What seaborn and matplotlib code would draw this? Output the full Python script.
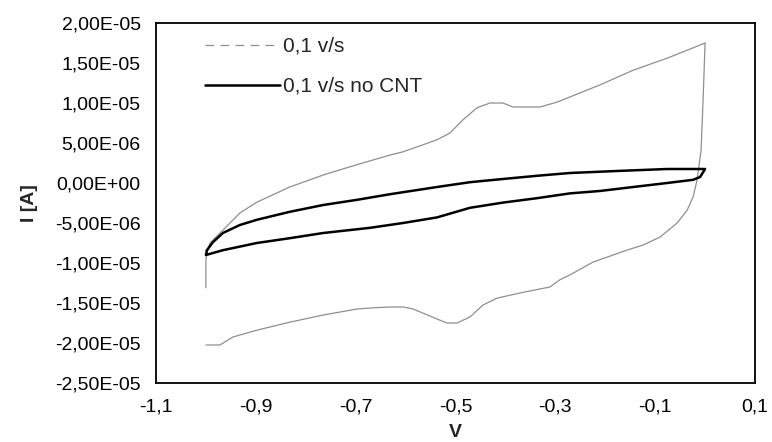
import numpy as np
import pandas as pd
import seaborn as sns
import matplotlib.pyplot as plt
from matplotlib.lines import Line2D
from matplotlib.ticker import FuncFormatter

# 0,1 v/s (with CNT) - values in microampere
cnt_rev_v = [0.000, -0.004, -0.008, -0.016, -0.024, -0.036, -0.056, -0.090, -0.124, -0.157,
             -0.225, -0.271, -0.291, -0.311, -0.371, -0.417, -0.445, -0.471, -0.497, -0.517,
             -0.537, -0.585, -0.605, -0.631, -0.665, -0.697, -0.765, -0.832, -0.898, -0.946,
             -0.972, -1.000]
cnt_rev_i = [17.5, 10.4, 4.1, 0.4, -1.75, -3.4, -5.0, -6.75, -7.75, -8.4,
             -9.9, -11.5, -12.1, -13.0, -13.75, -14.4, -15.25, -16.75, -17.5, -17.5,
             -17.0, -15.75, -15.5, -15.5, -15.6, -15.75, -16.5, -17.4, -18.4, -19.25,
             -20.25, -20.25]
cnt_fwd_v = [-1.000, -1.000, -0.998, -0.992, -0.966, -0.932, -0.898, -0.832, -0.765, -0.697,
             -0.631, -0.605, -0.537, -0.511, -0.485, -0.457, -0.431, -0.405, -0.385, -0.331,
             -0.297, -0.271, -0.211, -0.144, -0.076, -0.024, 0.000]
cnt_fwd_i = [-13.1, -9.6, -8.75, -7.5, -5.9, -3.75, -2.4, -0.5, 1.0, 2.3,
             3.5, 3.9, 5.4, 6.25, 7.9, 9.4, 10.0, 10.0, 9.5, 9.5,
             10.1, 10.75, 12.25, 14.1, 15.6, 16.9, 17.5]

# 0,1 v/s no CNT
nocnt_fwd_v = [-0.998, -0.986, -0.966, -0.932, -0.898, -0.832, -0.765, -0.697, -0.631, -0.537,
               -0.471, -0.405, -0.337, -0.271, -0.177, -0.076, 0.000]
nocnt_fwd_i = [-8.4, -7.4, -6.25, -5.25, -4.6, -3.6, -2.75, -2.1, -1.4, -0.5,
               0.1, 0.5, 0.9, 1.25, 1.5, 1.75, 1.75]
nocnt_rev_v = [0.000, -0.010, -0.024, -0.076, -0.144, -0.211, -0.271, -0.337, -0.405, -0.471,
               -0.537, -0.605, -0.671, -0.765, -0.832, -0.898, -0.966, -1.000, -0.998]
nocnt_rev_i = [1.75, 0.75, 0.4, 0.0, -0.5, -1.0, -1.3, -1.9, -2.45, -3.1,
               -4.3, -5.0, -5.6, -6.25, -6.9, -7.5, -8.4, -9.0, -8.4]

x_ticks = [-1.1, -0.9, -0.7, -0.5, -0.3, -0.1, 0.1]
y_ticks = [-2.5e-5, -2.0e-5, -1.5e-5, -1.0e-5, -5.0e-6, 0.0, 5.0e-6, 1.0e-5, 1.5e-5, 2.0e-5]

df_cnt = pd.DataFrame({
    "V": cnt_rev_v + cnt_fwd_v,
    "I": np.array(cnt_rev_i + cnt_fwd_i) * 1e-6,
    "branch": ["rev"] * len(cnt_rev_v) + ["fwd"] * len(cnt_fwd_v),
})
df_nocnt = pd.DataFrame({
    "V": nocnt_fwd_v + nocnt_rev_v,
    "I": np.array(nocnt_fwd_i + nocnt_rev_i) * 1e-6,
})

sns.set_style("white")
plt.rcParams["font.family"] = ["Liberation Sans", "DejaVu Sans"]

fig = plt.figure(figsize=(7.72, 4.42), dpi=100)
ax = fig.add_axes([156 / 772, 1 - 383 / 442, 599 / 772, 360 / 442])

gray = "#8f8f8f"
sns.lineplot(data=df_cnt, x="V", y="I", units="branch", estimator=None, sort=False,
             color=gray, linewidth=0.9, ax=ax, legend=False)
sns.lineplot(data=df_nocnt, x="V", y="I", estimator=None, sort=False,
             color="black", linewidth=1.8, ax=ax, legend=False)


def fmt_y(v, p):
    if abs(v) < 1e-12:
        v = 0.0
    return f"{v:.2E}".replace(".", ",")


ax.set_xlim(-1.1, 0.1)
ax.set_ylim(-2.5e-5, 2.0e-5)
ax.set_xticks(x_ticks)
ax.set_yticks(y_ticks)
ax.xaxis.set_major_formatter(FuncFormatter(lambda v, p: f"{v:.1f}".replace(".", ",")))
ax.yaxis.set_major_formatter(FuncFormatter(fmt_y))
ax.tick_params(length=0, labelsize=14, pad=11, colors="black")

for s in ax.spines.values():
    s.set_color("black")
    s.set_linewidth(1.3)

ax.set_xlabel("V", fontsize=14, fontweight="bold", labelpad=6)
ax.set_ylabel("I [A]", fontsize=14, fontweight="bold", labelpad=12)

handles = [
    Line2D([0], [0], color=gray, linewidth=0.9, linestyle=(0, (7, 5))),
    Line2D([0], [0], color="black", linewidth=1.8),
]
fig.legend(handles, ["0,1 v/s", "0,1 v/s no CNT"], loc="upper left",
           bbox_to_anchor=(205 / 772, 1 - 37 / 442), frameon=False, fontsize=15,
           handlelength=3.6, handletextpad=0.15, labelspacing=1.0,
           borderpad=0, borderaxespad=0)

plt.savefig("out.png", dpi=100)
